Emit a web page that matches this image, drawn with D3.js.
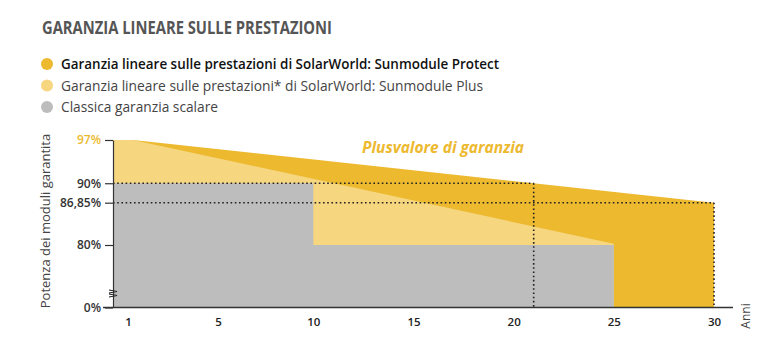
<!DOCTYPE html>
<html><head><meta charset="utf-8">
<script src="https://cdn.jsdelivr.net/npm/d3@7"></script>
<style>body{margin:0;background:#fff}svg{display:block}</style>
</head><body>
<svg id="c" width="768" height="352"></svg>
<script>
// ---- data ----
const protectYears = [0, 1, 30];
const protectValues = [97, 97, 86.85];
const plusYears = [0, 1, 25];
const plusValues = [97, 97, 80.2];
const classicYears = [0, 10, 10, 25];
const classicValues = [90, 90, 80, 80];
const yTickValues = [0, 80, 86.85, 90, 97];
const yTickLabels = ["0%", "80%", "86,85%", "90%", "97%"];
const xTickValues = [1, 5, 10, 15, 20, 25, 30];
const legendLabels = [
  "Garanzia lineare sulle prestazioni di SolarWorld: Sunmodule Protect",
  "Garanzia lineare sulle prestazioni* di SolarWorld: Sunmodule Plus",
  "Classica garanzia scalare"
];
const crossYear = 21; // year when Protect reaches 90%

const colors = {protect: "#ecb92f", plus: "#f6d67f", classic: "#bdbdbd"};
const legendColors = [colors.protect, colors.plus, colors.classic];

const svg = d3.select("#c");
const font = "'Open Sans', 'Noto Sans', sans-serif";

const x = d3.scaleLinear().domain([0, 30]).range([113, 714]);
const y = d3.scaleLinear().domain([0, 80, 97]).range([307.5, 245, 140]);

// title
svg.append("text").attr("x", 42).attr("y", 34)
  .attr("font-family", font).attr("font-weight", 700).attr("font-size", 17.5)
  .attr("fill", "#555").attr("textLength", 290).attr("lengthAdjust", "spacingAndGlyphs")
  .text("GARANZIA LINEARE SULLE PRESTAZIONI");

// legend
const legW = [438, 422, 157];
legendLabels.forEach((t, i) => {
  const cy = 64 + i * 21.5;
  svg.append("circle").attr("cx", 47).attr("cy", cy).attr("r", 6).attr("fill", legendColors[i]);
  svg.append("text").attr("x", 61).attr("y", cy + 5)
    .attr("font-family", font).attr("font-size", 14.5)
    .attr("font-weight", i === 0 ? 600 : 400)
    .attr("fill", i === 0 ? "#111" : "#444")
    .attr("textLength", legW[i]).attr("lengthAdjust", "spacingAndGlyphs")
    .text(t);
});

// areas
function areaPts(xs, vs) {
  const pts = xs.map((d, i) => [d, vs[i]]);
  return [[xs[0], 0], ...pts, [xs[xs.length - 1], 0]];
}
const area = d3.line().x(d => x(d[0])).y(d => y(d[1]));
svg.append("path").attr("d", area(areaPts(protectYears, protectValues)) + "Z").attr("fill", colors.protect);
svg.append("path").attr("d", area(areaPts(plusYears, plusValues)) + "Z").attr("fill", colors.plus);
svg.append("path").attr("d", area(areaPts(classicYears, classicValues)) + "Z").attr("fill", colors.classic);

// dotted reference lines
const dot = sel => sel.attr("stroke", "#222").attr("stroke-width", 1.6)
  .attr("stroke-dasharray", "1.6 2.6").attr("fill", "none");
dot(svg.append("line").attr("x1", x(0)).attr("x2", x(crossYear)).attr("y1", y(90)).attr("y2", y(90)));
dot(svg.append("line").attr("x1", x(0)).attr("x2", x(30)).attr("y1", y(86.85)).attr("y2", y(86.85)));
dot(svg.append("line").attr("x1", x(crossYear)).attr("x2", x(crossYear)).attr("y1", y(90)).attr("y2", y(0)));
dot(svg.append("line").attr("x1", x(30)).attr("x2", x(30)).attr("y1", y(86.85)).attr("y2", y(0)));

// y axis
const yAxis = d3.axisLeft(y).tickValues(yTickValues)
  .tickFormat((d, i) => yTickLabels[i]).tickSize(8).tickSizeOuter(0).tickPadding(4);
const gy = svg.append("g").attr("transform", `translate(${x(0)},0)`).call(yAxis);
gy.select(".domain").attr("stroke", "#333").attr("stroke-width", 1.2);
gy.selectAll(".tick line").attr("stroke", "#333").attr("stroke-width", 1.2);
gy.selectAll(".tick text").attr("font-family", font).attr("font-size", 12).attr("font-weight", 600)
  .attr("fill", d => d === 97 ? "#ecb92f" : "#333");

// axis break symbol
svg.append("path").attr("d", `M${x(0)-4},290 L${x(0)+4},291.5 L${x(0)-4},293 M${x(0)-4},294 L${x(0)+4},295.5 L${x(0)-4},297`)
  .attr("stroke", "#222").attr("stroke-width", 1.2).attr("fill", "none");

// x axis
svg.append("line").attr("x1", 103).attr("x2", 733).attr("y1", y(0)).attr("y2", y(0))
  .attr("stroke", "#333").attr("stroke-width", 1.4);
const xAxis = d3.axisBottom(x).tickValues(xTickValues).tickSize(0).tickPadding(10);
const gx = svg.append("g").attr("transform", `translate(0,${y(0)})`).call(xAxis);
gx.select(".domain").remove();
gx.selectAll(".tick text").attr("font-family", font).attr("font-size", 11.5).attr("font-weight", 600).attr("fill", "#222")
  .attr("dx", d => d === 1 ? -5 : d === 5 ? 5 : 0);

// axis titles
svg.append("text").attr("transform", "translate(50,221) rotate(-90)").attr("text-anchor", "middle")
  .attr("font-family", font).attr("font-size", 13).attr("fill", "#444").text("Potenza dei moduli garantita");
svg.append("text").attr("transform", "translate(750,316) rotate(-90)").attr("text-anchor", "middle")
  .attr("font-family", font).attr("font-size", 12).attr("fill", "#444").text("Anni");

// annotation
svg.append("text").attr("x", 362).attr("y", 153)
  .attr("font-family", font).attr("font-size", 16).attr("font-weight", 700).attr("font-style", "italic")
  .attr("fill", "#ecb92f").attr("textLength", 162).attr("lengthAdjust", "spacingAndGlyphs")
  .text("Plusvalore di garanzia");
</script>
</body></html>
